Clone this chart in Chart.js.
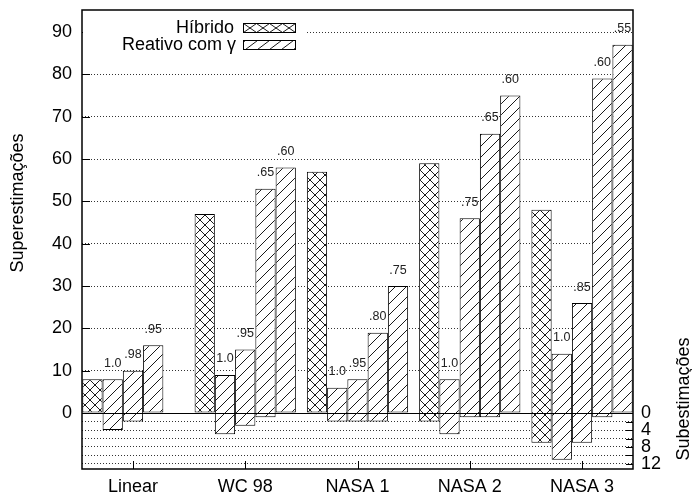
<!DOCTYPE html>
<html>
<head>
<meta charset="utf-8">
<script src="https://cdn.jsdelivr.net/npm/chart.js@4/dist/chart.umd.min.js"></script>
<style>
  html, body { margin: 0; padding: 0; background: #fff; }
  canvas { display: block; }
</style>
</head>
<body>
<canvas id="chart" width="692" height="497"></canvas>
<script>
// Workloads on the category axis
const categories = ['Linear', 'WC 98', 'NASA 1', 'NASA 2', 'NASA 3'];

// Hybrid provisioning: over-estimations (up) and under-estimations (down)
const hibridoOver  = [8, 47, 57, 59, 48];
const hibridoUnder = [0, 0, 0, 2, 7];

// Reactive provisioning, one series per gamma setting (bar slot 2..5)
const reativo1Over  = [8, 9, 6, 8, 14];
const reativo1Under = [4, 5, 2, 5, 11];
const reativo2Over  = [10, 15, 8, 46, 26];
const reativo2Under = [2, 3, 2, 1, 7];
const reativo3Over  = [16, 53, 19, 66, 79];
const reativo3Under = [0, 1, 2, 1, 1];
const reativo4Over  = [null, 58, 30, 75, 87];
const reativo4Under = [null, 0, 0, 0, 0];

// Gamma value printed above each reactive bar
const gamma1 = ['1.0', '1.0', '1.0', '1.0', '1.0'];
const gamma2 = ['.98', '.95', '.95', '.75', '.85'];
const gamma3 = ['.95', '.65', '.80', '.65', '.60'];
const gamma4 = [null, '.60', '.75', '.60', '.55'];

// Tick labels
const overTicks  = [0, 10, 20, 30, 40, 50, 60, 70, 80, 90];
const underGrid  = [2, 4, 6, 8, 10, 12];
const underTicks = [0, 4, 8, 12];

const FONT = '"Liberation Sans", Arial, Helvetica, sans-serif';

const canvas = document.getElementById('chart');
const ctx = canvas.getContext('2d');

function makePattern(kind, p) {
  const c = document.createElement('canvas');
  c.width = p; c.height = p;
  const g = c.getContext('2d');
  g.fillStyle = '#fff';
  g.fillRect(0, 0, p, p);
  g.strokeStyle = '#000';
  g.lineWidth = 0.9;
  g.beginPath();
  g.moveTo(-1, p + 1); g.lineTo(p + 1, -1);
  g.moveTo(-1, 1); g.lineTo(1, -1);
  g.moveTo(p - 1, p + 1); g.lineTo(p + 1, p - 1);
  if (kind === 'cross') {
    g.moveTo(-1, -1); g.lineTo(p + 1, p + 1);
    g.moveTo(p - 1, -1); g.lineTo(p + 1, 1);
    g.moveTo(-1, p - 1); g.lineTo(1, p + 1);
  }
  g.stroke();
  return ctx.createPattern(c, 'repeat');
}

const crossFill = makePattern('cross', 10);
const diagFill = makePattern('diag', 11);

function floatBars(over, under) {
  const pts = [];
  over.forEach((v, i) => {
    if (v !== null) pts.push({ x: i, y: [-under[i], v] });
  });
  return pts;
}

const gammaLabels = [null, gamma1, gamma2, gamma3, gamma4];

const datasets = [
  { label: 'Híbrido', data: floatBars(hibridoOver, hibridoUnder), backgroundColor: crossFill },
  { label: 'Reativo com γ', data: floatBars(reativo1Over, reativo1Under), backgroundColor: diagFill },
  { label: 'Reativo com γ', data: floatBars(reativo2Over, reativo2Under), backgroundColor: diagFill },
  { label: 'Reativo com γ', data: floatBars(reativo3Over, reativo3Under), backgroundColor: diagFill },
  { label: 'Reativo com γ', data: floatBars(reativo4Over, reativo4Under), backgroundColor: diagFill }
];

const decor = {
  id: 'decor',
  afterDatasetsDraw(chart) {
    const { ctx, chartArea: a, scales } = chart;
    const x = scales.x, y = scales.y;
    const y0 = Math.round(y.getPixelForValue(0)) + 0.5;

    ctx.save();
    // zero line across the whole plot
    ctx.strokeStyle = '#000';
    ctx.lineWidth = 1;
    ctx.beginPath();
    ctx.moveTo(a.left, y0);
    ctx.lineTo(a.right, y0);
    ctx.stroke();

    // gamma labels above reactive bars
    ctx.font = '12.5px ' + FONT;
    ctx.fillStyle = '#222';
    ctx.textAlign = 'center';
    ctx.textBaseline = 'alphabetic';
    for (let k = 1; k < chart.data.datasets.length; k++) {
      const meta = chart.getDatasetMeta(k);
      const raw = chart.data.datasets[k].data;
      meta.data.forEach((bar, j) => {
        const txt = gammaLabels[k][raw[j].x];
        if (!txt) return;
        const p = bar.getProps(['x', 'y', 'base'], true);
        const top = Math.min(p.y, p.base);
        ctx.fillText(txt, p.x, top - 12.5);
      });
    }

    // inward tick marks
    ctx.strokeStyle = '#000';
    ctx.lineWidth = 1;
    ctx.beginPath();
    overTicks.forEach(v => {
      if (v === 0) return;
      const py = Math.round(y.getPixelForValue(v)) + 0.5;
      ctx.moveTo(a.left, py); ctx.lineTo(a.left + 8, py);
    });
    [0].concat(underGrid).forEach(v => {
      const py = Math.round(y.getPixelForValue(-v)) + 0.5;
      ctx.moveTo(a.right, py); ctx.lineTo(a.right - 7, py);
    });
    categories.forEach((c, i) => {
      const px = Math.round(x.getPixelForValue(i)) + 0.5;
      ctx.moveTo(px, a.bottom); ctx.lineTo(px, a.bottom - 8);
    });
    ctx.stroke();

    // legend
    ctx.fillStyle = '#fff';
    ctx.fillRect(a.left + 1, a.top + 1, 222, 45);
    ctx.fillStyle = '#000';
    ctx.font = '18px ' + FONT;
    ctx.textAlign = 'right';
    ctx.fillText('Híbrido', 234, 33);
    ctx.fillText('Reativo com γ', 236, 49.5);

    const sx = 243.5, sw = 52, sh = 9;
    // crosshatch swatch
    let sy = 23.5;
    ctx.save();
    ctx.beginPath(); ctx.rect(sx, sy, sw, sh); ctx.clip();
    ctx.lineWidth = 0.9;
    ctx.beginPath();
    for (let k = 0; k < 4; k++) {
      const cx = sx + k * 13;
      ctx.moveTo(cx, sy); ctx.lineTo(cx + 13, sy + sh);
      ctx.moveTo(cx, sy + sh); ctx.lineTo(cx + 13, sy);
    }
    ctx.stroke();
    ctx.restore();
    ctx.lineWidth = 1;
    ctx.strokeRect(sx, sy, sw, sh);
    // diagonal swatch
    sy = 40.5;
    ctx.save();
    ctx.beginPath(); ctx.rect(sx, sy, sw, sh); ctx.clip();
    ctx.lineWidth = 0.9;
    ctx.beginPath();
    for (let k = -1; k < 5; k++) {
      const cx = sx + k * 12 + 2;
      ctx.moveTo(cx, sy + sh); ctx.lineTo(cx + 12, sy);
    }
    ctx.stroke();
    ctx.restore();
    ctx.lineWidth = 1;
    ctx.strokeRect(sx, sy, sw, sh);

    // plot frame
    ctx.lineWidth = 1.5;
    ctx.strokeRect(a.left, a.top, a.right - a.left, a.bottom - a.top);

    // axis titles
    ctx.font = '18px ' + FONT;
    ctx.textAlign = 'center';
    ctx.textBaseline = 'middle';
    ctx.save();
    ctx.translate(18, 203);
    ctx.rotate(-Math.PI / 2);
    ctx.fillText('Superestimações', 0, 0);
    ctx.restore();
    ctx.save();
    ctx.translate(684, 399);
    ctx.rotate(-Math.PI / 2);
    ctx.fillText('Subestimações', 0, 0);
    ctx.restore();

    ctx.restore();
  }
};

new Chart(ctx, {
  type: 'bar',
  data: { datasets },
  plugins: [decor],
  options: {
    responsive: false,
    animation: false,
    devicePixelRatio: 1,
    layout: { padding: { top: 10, left: 0, right: 0, bottom: 0 } },
    plugins: { legend: { display: false }, tooltip: { enabled: false } },
    datasets: {
      bar: {
        categoryPercentage: 0.902,
        barPercentage: 1,
        borderSkipped: false,
        borderWidth: 1,
        borderColor: '#000'
      }
    },
    scales: {
      x: {
        type: 'linear',
        offset: false,
        min: -0.454,
        max: 4.454,
        afterBuildTicks: s => { s.ticks = categories.map((c, i) => ({ value: i })); },
        ticks: {
          callback: v => categories[v] ?? '',
          font: { size: 18, family: FONT },
          color: '#000',
          padding: 7,
          maxRotation: 0,
          autoSkip: false
        },
        grid: { display: false, drawTicks: false, offset: false },
        border: { display: false },
        afterFit: s => { s.height = 28; s.paddingLeft = 0; s.paddingRight = 0; }
      },
      y: {
        position: 'left',
        min: -13.2,
        max: 95.2,
        afterBuildTicks: s => {
          s.ticks = underGrid.map(v => ({ value: -v })).reverse().concat(overTicks.map(v => ({ value: v })));
        },
        ticks: {
          callback: v => (v >= 0 ? String(v) : ''),
          font: { size: 18, family: FONT },
          color: '#000',
          padding: 10,
          autoSkip: false
        },
        grid: { color: 'rgba(0,0,0,0.8)', lineWidth: 1, drawTicks: false },
        border: { display: false, dash: [1, 2] },
        afterFit: s => { s.width = 82; s.paddingTop = 0; s.paddingBottom = 0; }
      },
      y2: {
        position: 'right',
        min: -13.2,
        max: 95.2,
        afterBuildTicks: s => { s.ticks = underTicks.map(v => ({ value: -v })); },
        ticks: {
          callback: v => String(Math.abs(v)),
          font: { size: 18, family: FONT },
          color: '#000',
          padding: 8,
          autoSkip: false
        },
        grid: { display: false, drawTicks: false },
        border: { display: false },
        afterFit: s => { s.width = 59; s.paddingTop = 0; s.paddingBottom = 0; }
      }
    }
  }
});
</script>
</body>
</html>
